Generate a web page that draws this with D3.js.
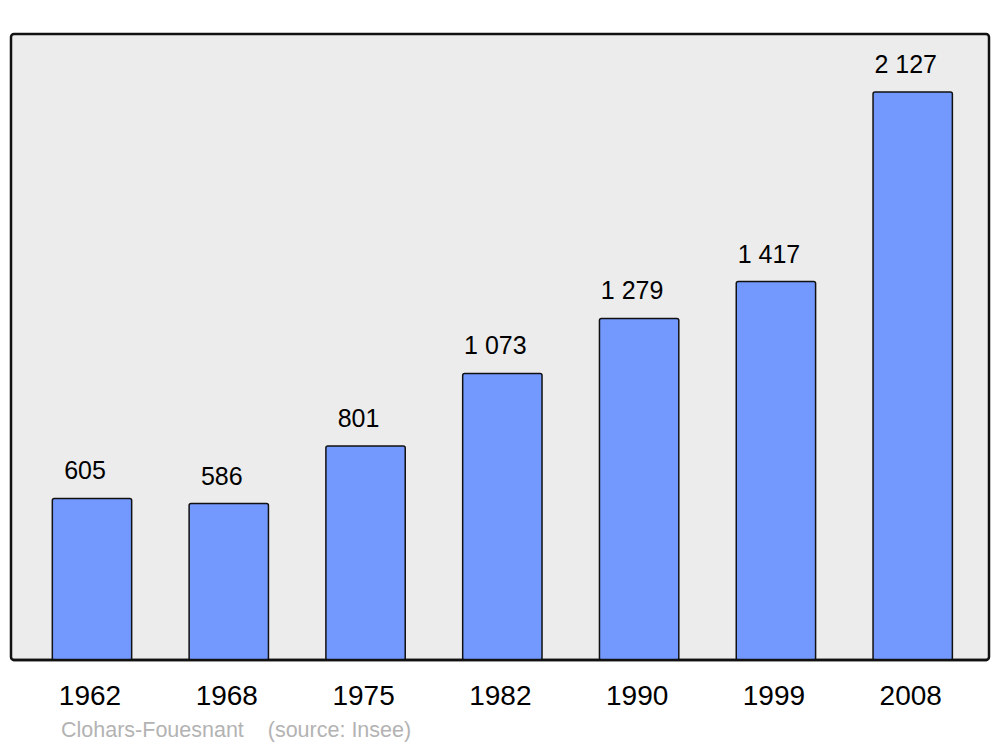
<!DOCTYPE html>
<html>
<head>
<meta charset="utf-8">
<script src="https://cdn.jsdelivr.net/npm/d3@7"></script>
<style>
  body { margin: 0; background: #fff; }
  svg { display: block; font-family: "Liberation Sans", Arial, sans-serif; }
</style>
</head>
<body>
<div id="chart"></div>
<script>
// population data
const years = ["1962", "1968", "1975", "1982", "1990", "1999", "2008"];
const population = [605, 586, 801, 1073, 1279, 1417, 2127];
const labels = ["605", "586", "801", "1 073", "1 279", "1 417", "2 127"];

const width = 1000, height = 747;
const panel = {left: 11, right: 989, top: 34, bottom: 660};

const svg = d3.select('#chart')
  .append('svg')
  .attr('width', width)
  .attr('height', height);

// background panel
svg.append('rect')
  .attr('x', panel.left)
  .attr('y', panel.top)
  .attr('width', panel.right - panel.left)
  .attr('height', panel.bottom - panel.top)
  .attr('rx', 3)
  .attr('fill', '#ececec')
  .attr('stroke', '#111')
  .attr('stroke-width', 2.5);

// scales
const x = d3.scaleBand()
  .domain(years)
  .range([23.6, 981.1])
  .paddingInner(0.42)
  .paddingOuter(0.21);

const y = d3.scaleLinear()
  .domain([0, 2127])
  .range([panel.bottom, 92]);

const data = years.map((yr, i) => ({year: yr, value: population[i], label: labels[i]}));

// bars
svg.selectAll('.bar')
  .data(data)
  .enter()
  .append('rect')
    .attr('class', 'bar')
    .attr('x', d => x(d.year))
    .attr('y', d => y(d.value))
    .attr('width', x.bandwidth())
    .attr('height', d => y(0) - y(d.value))
    .attr('rx', 2)
    .attr('fill', '#7399ff')
    .attr('stroke', '#111')
    .attr('stroke-width', 1.5);

// redraw bottom edge of panel over bars
svg.append('line')
  .attr('x1', panel.left + 2)
  .attr('x2', panel.right - 2)
  .attr('y1', panel.bottom)
  .attr('y2', panel.bottom)
  .attr('stroke', '#111')
  .attr('stroke-width', 2.5);

// value labels
svg.selectAll('.val')
  .data(data)
  .enter()
  .append('text')
    .attr('class', 'val')
    .attr('x', d => x(d.year) + x.bandwidth() / 2 - 7)
    .attr('y', d => y(d.value) - 19)
    .attr('text-anchor', 'middle')
    .style('font-size', '25px')
    .attr('fill', '#000')
    .text(d => d.label);

// x axis (years)
const xAxis = d3.axisBottom(x).tickSize(0).tickPadding(0);
const axisG = svg.append('g')
  .attr('transform', `translate(0,${panel.bottom})`)
  .call(xAxis);
axisG.select('.domain').remove();
axisG.selectAll('text')
  .attr('dy', null)
  .attr('x', -2)
  .attr('y', 45)
  .style('font-size', '28px')
  .style('font-family', '"Liberation Sans", Arial, sans-serif')
  .attr('fill', '#000');

// source note
svg.append('text')
  .attr('x', 61)
  .attr('y', 737)
  .style('font-size', '21.5px')
  .attr('fill', '#b3b3b3')
  .attr('xml:space', 'preserve')
  .style('white-space', 'pre')
  .text('Clohars-Fouesnant    (source: Insee)');
</script>
</body>
</html>
